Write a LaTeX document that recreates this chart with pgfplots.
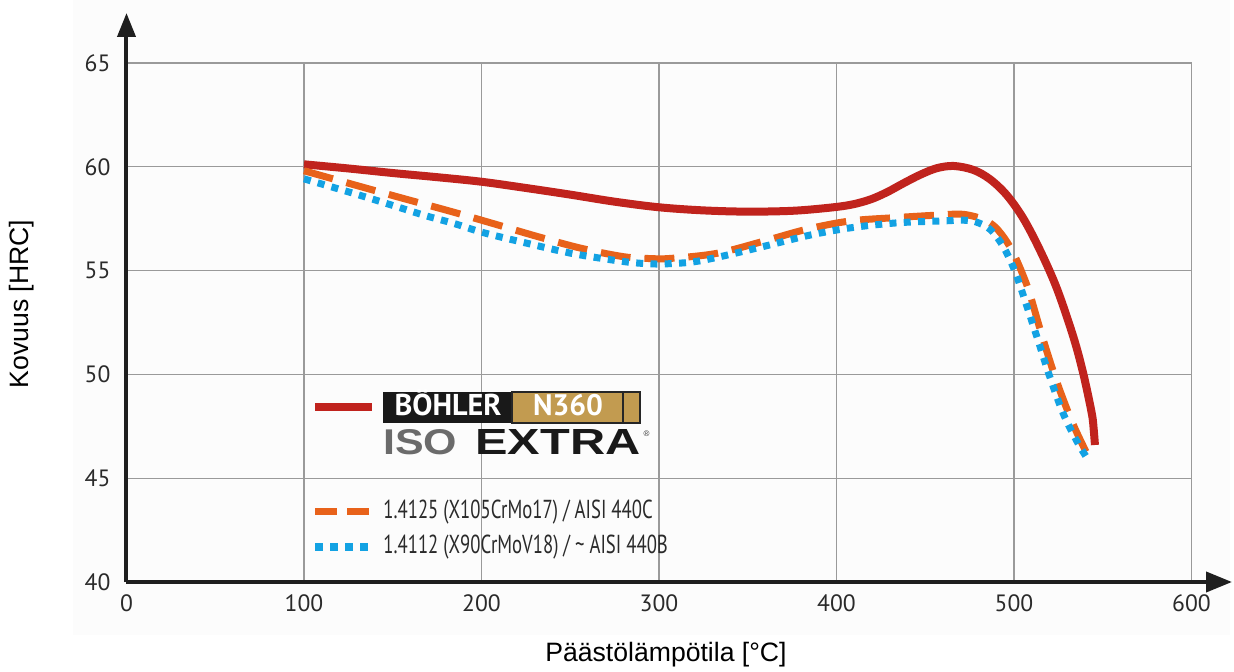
\documentclass[border=0pt]{standalone}
\usepackage{pgfplots}
\pgfplotsset{compat=1.18}
\usetikzlibrary{arrows.meta}
\usepackage{fontspec}
\setmainfont{Liberation Sans}
\newfontfamily\ptsans{PT Sans}
\definecolor{cred}{HTML}{C0231D}
\definecolor{corange}{HTML}{E8621A}
\definecolor{cblue}{HTML}{13A2E3}
\definecolor{gold}{HTML}{C29B50}
\definecolor{txt}{HTML}{2A2A2A}
\definecolor{bgc}{HTML}{FCFCFC}
\definecolor{gridc}{HTML}{9A9A9A}
\begin{document}
\begin{tikzpicture}
\fill[bgc] (-26.75bp,-26.5bp) rectangle (551.75bp,291bp);
\begin{axis}[
  scale only axis, width=532.5bp, height=259.5bp,
  xmin=0, xmax=600, ymin=40, ymax=65,
  axis lines=left,
  axis line style={line width=2bp, color=black!88},
  x axis line style={-{Triangle[length=13bp,width=10bp]}, shorten >=-20.25bp},
  y axis line style={-{Triangle[length=12bp,width=9bp]}, shorten >=-25bp},
  xtick={0,100,...,600}, ytick={40,45,...,65},
  major tick length=0pt,
  grid=major, grid style={color=gridc, line width=0.6bp},
  tick label style={font=\ptsans\fontsize{11.8bp}{13bp}\selectfont, text=txt},
  /pgf/number format/assume math mode=true,
  xticklabel style={yshift=-3bp},
  yticklabel style={xshift=-4.5bp},
  clip=false,
]
\addplot[cred, line width=4bp, smooth, tension=0.55] coordinates {
(100,60.12) (125,59.92) (150,59.7) (175,59.5) (200,59.28) (225,58.98) (250,58.66) (275,58.32)
(300,58.05) (325,57.9) (350,57.84) (375,57.88) (395,58.02) (408,58.17) (418.9,58.42) (428.3,58.77)
(437.6,59.2) (447,59.61) (456.4,59.93) (466,60.04) (477.1,59.85) (486.5,59.40) (495.9,58.64)
(505.2,57.52) (514.6,55.99) (524.1,54.15) (533.4,51.82) (539,50.05) (543.8,48.13) (544.9,47.35) (545.6,46.6)
};
\addplot[corange, line width=3.5bp, dash pattern=on 15bp off 7bp, smooth, tension=0.55] coordinates {
(100,59.81) (133.4,59.01) (157.9,58.43) (183.2,57.84) (207.6,57.24) (232,56.63) (256.4,56.07)
(280,55.67) (295,55.58) (307,55.59) (332.5,55.83) (357.9,56.39) (383.2,56.99) (407.6,57.39)
(432.9,57.55) (458,57.68) (470,57.72) (478,57.6) (484,57.42) (489,57.13) (493,56.75) (497,56.25)
(500.6,55.67) (505,54.8) (509,53.85) (516,51.8) (524.5,49.55) (533.8,47.5) (543.8,45.72)
};
\addplot[cblue, line width=3.5bp, dash pattern=on 3.5bp off 3.65bp, smooth, tension=0.55] coordinates {
(100,59.42) (118.4,58.96) (135.3,58.53) (152.2,58.08) (169.1,57.63) (184.1,57.28) (201,56.83)
(225.5,56.32) (250.8,55.83) (276.2,55.48) (290,55.35) (301.5,55.32) (318.4,55.41) (334.4,55.67)
(359.7,56.18) (385.1,56.71) (409.5,57.08) (435.8,57.31) (462.1,57.40) (470,57.43) (478,57.36)
(486.5,56.99) (494,56.15) (500.6,54.95) (507.2,53.3) (513.7,51.6) (520.3,49.85) (527.8,48.1)
(535.3,46.8) (540.9,46.0) (542,45.85)
};
\end{axis}
% legend
\draw[cred, line width=4bp] (94.25bp,87.5bp) -- (122.75bp,87.5bp);
\fill[black!90] (128.25bp,79.5bp) rectangle (192.75bp,95bp);
\fill[gold] (192.75bp,79.5bp) rectangle (256.75bp,95bp);
\draw[black!85, line width=0.6bp] (192.75bp,79.5bp) rectangle (256.75bp,95bp);
\draw[black!85, line width=0.6bp] (248.25bp,79.5bp) -- (248.25bp,95bp);
\node[anchor=base, inner sep=0, text=white] at (160.75bp,83bp) {\resizebox{53.5bp}{!}{\ptsans\bfseries BÖHLER}};
\node[anchor=base, inner sep=0, text=white] at (220.75bp,83bp) {\resizebox{35bp}{!}{\ptsans\bfseries N360}};
\node[anchor=base west, inner sep=0, text=black!58] at (128.25bp,63.5bp) {\resizebox{37bp}{12.5bp}{\bfseries ISO}};
\node[anchor=base west, inner sep=0, text=black!90] at (174.25bp,63.5bp) {\resizebox{82.5bp}{12.5bp}{\bfseries EXTRA}};
\node[inner sep=0, text=black!80] at (260bp,74bp) {\fontsize{4bp}{4bp}\selectfont ®};
\draw[corange, line width=3.5bp, dash pattern=on 11bp off 5bp] (94.25bp,35bp) -- (121.25bp,35bp);
\node[anchor=west, inner sep=0, text=txt] at (128.25bp,35bp) {\ptsans\fontsize{13bp}{15bp}\selectfont\scalebox{0.72}[1]{1.4125 (X105CrMo17) / AISI 440C}};
\draw[cblue, line width=4bp, dash pattern=on 4bp off 3.5bp] (94.25bp,17.5bp) -- (121bp,17.5bp);
\node[anchor=west, inner sep=0, text=txt] at (128.25bp,17.5bp) {\ptsans\fontsize{13bp}{15bp}\selectfont\scalebox{0.72}[1]{1.4112 (X90CrMoV18) / \textasciitilde{} AISI 440B}};
% axis labels
\node[font=\fontsize{13.3bp}{15bp}\selectfont] at (269.75bp,-36.5bp) {Päästölämpötila [°C]};
\node[rotate=90, font=\fontsize{13.3bp}{15bp}\selectfont] at (-52.25bp,139bp) {Kovuus [HRC]};
\pgfresetboundingbox
\path[use as bounding box] (-63.25bp,-45bp) rectangle (553.75bp,291bp);
\end{tikzpicture}
\end{document}
